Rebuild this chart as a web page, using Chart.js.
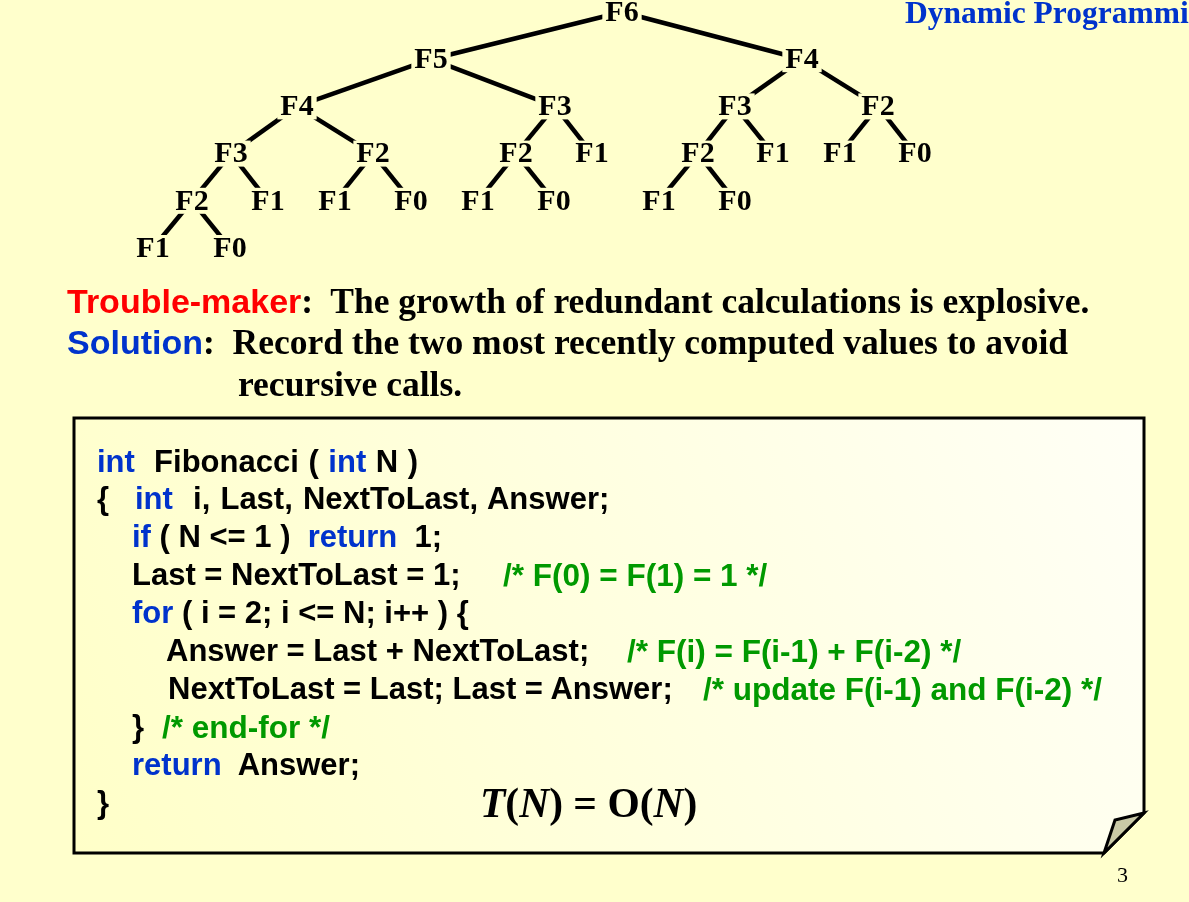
<!DOCTYPE html>
<html>
<head>
<meta charset="utf-8">
<script src="https://cdn.jsdelivr.net/npm/chart.js@4.4.1/dist/chart.umd.min.js"></script>
<style>
  html, body { margin: 0; padding: 0; }
  body { width: 1189px; height: 902px; background: #FFFFCC; position: relative; overflow: hidden; }
  canvas { position: absolute; left: 0; top: 0; }
  .t { position: absolute; white-space: pre; line-height: 40px; font-weight: bold; color: #000; }
  .serif { font-family: "Liberation Serif", "Times New Roman", serif; }
  .sans { font-family: "Liberation Sans", Arial, sans-serif; }
  .code { font-family: "Liberation Sans", Arial, sans-serif; font-size: 31px; }
  .kw { color: #0033CC; }
  .cm { color: #009900; font-size: 31.5px; }
  .red { color: #FF0000; }
</style>
</head>
<body>
<canvas id="tree" width="1189" height="902"></canvas>

<div class="t serif" style="left:905px;top:-7px;font-size:31.5px;color:#0033CC">Dynamic Programming</div>

<div class="t" style="left:67px;top:281px"><span class="sans red" style="font-size:34px">Trouble-maker</span><span class="serif" style="font-size:35.5px">:  The growth of redundant calculations is explosive.</span></div>
<div class="t" style="left:67px;top:322px"><span class="sans kw" style="font-size:34px">Solution</span><span class="serif" style="font-size:35.5px">:  Record the two most recently computed values to avoid</span></div>
<div class="t serif" style="left:238px;top:364px;font-size:35.5px">recursive calls.</div>

<div class="t code" style="left:97px;top:442px;word-spacing:1px"><span class="kw">int</span>  Fibonacci ( <span class="kw">int</span> N )</div>
<div class="t code" style="left:97px;top:479px">{</div>
<div class="t code" style="left:135px;top:479px;word-spacing:1.5px"><span class="kw">int</span>  i, Last, NextToLast, Answer;</div>
<div class="t code" style="left:132px;top:517px"><span class="kw">if</span> ( N &lt;= 1 )  <span class="kw">return</span>  1;</div>
<div class="t code" style="left:132px;top:555px">Last = NextToLast = 1;</div>
<div class="t code cm" style="left:503px;top:555px">/* F(0) = F(1) = 1 */</div>
<div class="t code" style="left:132px;top:593px"><span class="kw">for</span> ( i = 2; i &lt;= N; i++ ) {</div>
<div class="t code" style="left:166px;top:631px">Answer = Last + NextToLast;</div>
<div class="t code cm" style="left:627px;top:631px">/* F(i) = F(i-1) + F(i-2) */</div>
<div class="t code" style="left:168px;top:669px">NextToLast = Last; Last = Answer;</div>
<div class="t code cm" style="left:703px;top:669px">/* update F(i-1) and F(i-2) */</div>
<div class="t code" style="left:132px;top:707px">}</div>
<div class="t code cm" style="left:162px;top:707px">/* end-for */</div>
<div class="t code" style="left:132px;top:745px"><span class="kw">return</span>  Answer;</div>
<div class="t code" style="left:97px;top:783px">}</div>

<div class="t serif" style="left:480px;top:783px;font-size:41.5px"><i>T</i>(<i>N</i>) = O(<i>N</i>)</div>
<div class="t serif" style="left:1117px;top:855px;font-size:22px;font-weight:normal">3</div>

<script>
// recursion tree of Fibonacci(6): label, horizontal place, depth, parent index
const nodeLabels = ["F6",
  "F5", "F4",
  "F4", "F3", "F3", "F2",
  "F3", "F2", "F2", "F1", "F2", "F1", "F1", "F0",
  "F2", "F1", "F1", "F0", "F1", "F0", "F1", "F0",
  "F1", "F0"];
const nodeX = [622,
  431, 802,
  297, 555, 735, 878,
  231, 373, 516, 592, 698, 773, 840, 915,
  192, 268, 335, 411, 478, 554, 659, 735,
  153, 230];
const nodeLevel = [0,
  1, 1,
  2, 2, 2, 2,
  3, 3, 3, 3, 3, 3, 3, 3,
  4, 4, 4, 4, 4, 4, 4, 4,
  5, 5];
const nodeParent = [-1,
  0, 0,
  1, 1, 2, 2,
  3, 3, 4, 4, 5, 5, 6, 6,
  7, 7, 8, 8, 9, 9, 11, 11,
  15, 15];

const PAGE_BG = "#FFFFCC";
const LEVEL_TOP = 12;     // pixel row of depth 0
const LEVEL_STEP = 47.2;  // pixels per depth step

// edges: one short line per parent -> child
const datasets = [];
nodeParent.forEach((p, i) => {
  if (p < 0) return;
  datasets.push({
    data: [{ x: nodeX[p], y: nodeLevel[p] }, { x: nodeX[i], y: nodeLevel[i] }],
    showLine: true,
    borderColor: "#000",
    borderWidth: 4.5,
    borderCapStyle: "butt",
    pointRadius: 0,
  });
});
const nodeIndex = datasets.length;
datasets.push({
  label: "nodes",
  data: nodeX.map((x, i) => ({ x, y: nodeLevel[i] })),
  pointRadius: 0,
  showLine: false,
});

// the code panel with its folded corner, drawn behind everything
const panelPlugin = {
  id: "panel",
  beforeDraw(chart) {
    const ctx = chart.ctx;
    const x0 = 74, y0 = 418, x1 = 1144, y1 = 853, fold = 40;
    ctx.save();
    const grad = ctx.createLinearGradient(x1, y0, x0, y1);
    grad.addColorStop(0, "#FFFFF6");
    grad.addColorStop(1, "#FFFFC8");
    ctx.beginPath();
    ctx.moveTo(x0, y0);
    ctx.lineTo(x1, y0);
    ctx.lineTo(x1, y1 - fold);
    ctx.lineTo(x1 - fold, y1);
    ctx.lineTo(x0, y1);
    ctx.closePath();
    ctx.fillStyle = grad;
    ctx.fill();
    ctx.lineWidth = 3;
    ctx.lineJoin = "miter";
    ctx.strokeStyle = "#000";
    ctx.stroke();
    ctx.beginPath();
    ctx.moveTo(x1, y1 - fold);
    ctx.lineTo(x1 - 29, y1 - fold + 7);
    ctx.lineTo(x1 - fold, y1);
    ctx.closePath();
    ctx.fillStyle = "#C9C9A6";
    ctx.fill();
    ctx.stroke();
    ctx.restore();
  },
};

// node names printed over the edge ends
const labelPlugin = {
  id: "nodeLabels",
  afterDatasetsDraw(chart) {
    const ctx = chart.ctx;
    const meta = chart.getDatasetMeta(nodeIndex);
    ctx.save();
    ctx.font = 'bold 30px "Liberation Serif", "Times New Roman", serif';
    ctx.textAlign = "center";
    ctx.textBaseline = "middle";
    meta.data.forEach((pt, i) => {
      const w = ctx.measureText(nodeLabels[i]).width;
      ctx.fillStyle = PAGE_BG;
      ctx.fillRect(pt.x - w / 2 - 3, pt.y - 13, w + 6, 26);
      ctx.fillStyle = "#000";
      ctx.fillText(nodeLabels[i], pt.x, pt.y + 1);
    });
    ctx.restore();
  },
};

new Chart(document.getElementById("tree"), {
  type: "scatter",
  data: { datasets },
  options: {
    responsive: false,
    animation: false,
    events: [],
    layout: { padding: 0 },
    plugins: { legend: { display: false }, tooltip: { enabled: false } },
    scales: {
      x: { type: "linear", min: 0, max: 1189, display: false },
      y: {
        type: "linear",
        reverse: true,
        min: -LEVEL_TOP / LEVEL_STEP,
        max: (902 - LEVEL_TOP) / LEVEL_STEP,
        display: false,
      },
    },
  },
  plugins: [panelPlugin, labelPlugin],
});
</script>
</body>
</html>
